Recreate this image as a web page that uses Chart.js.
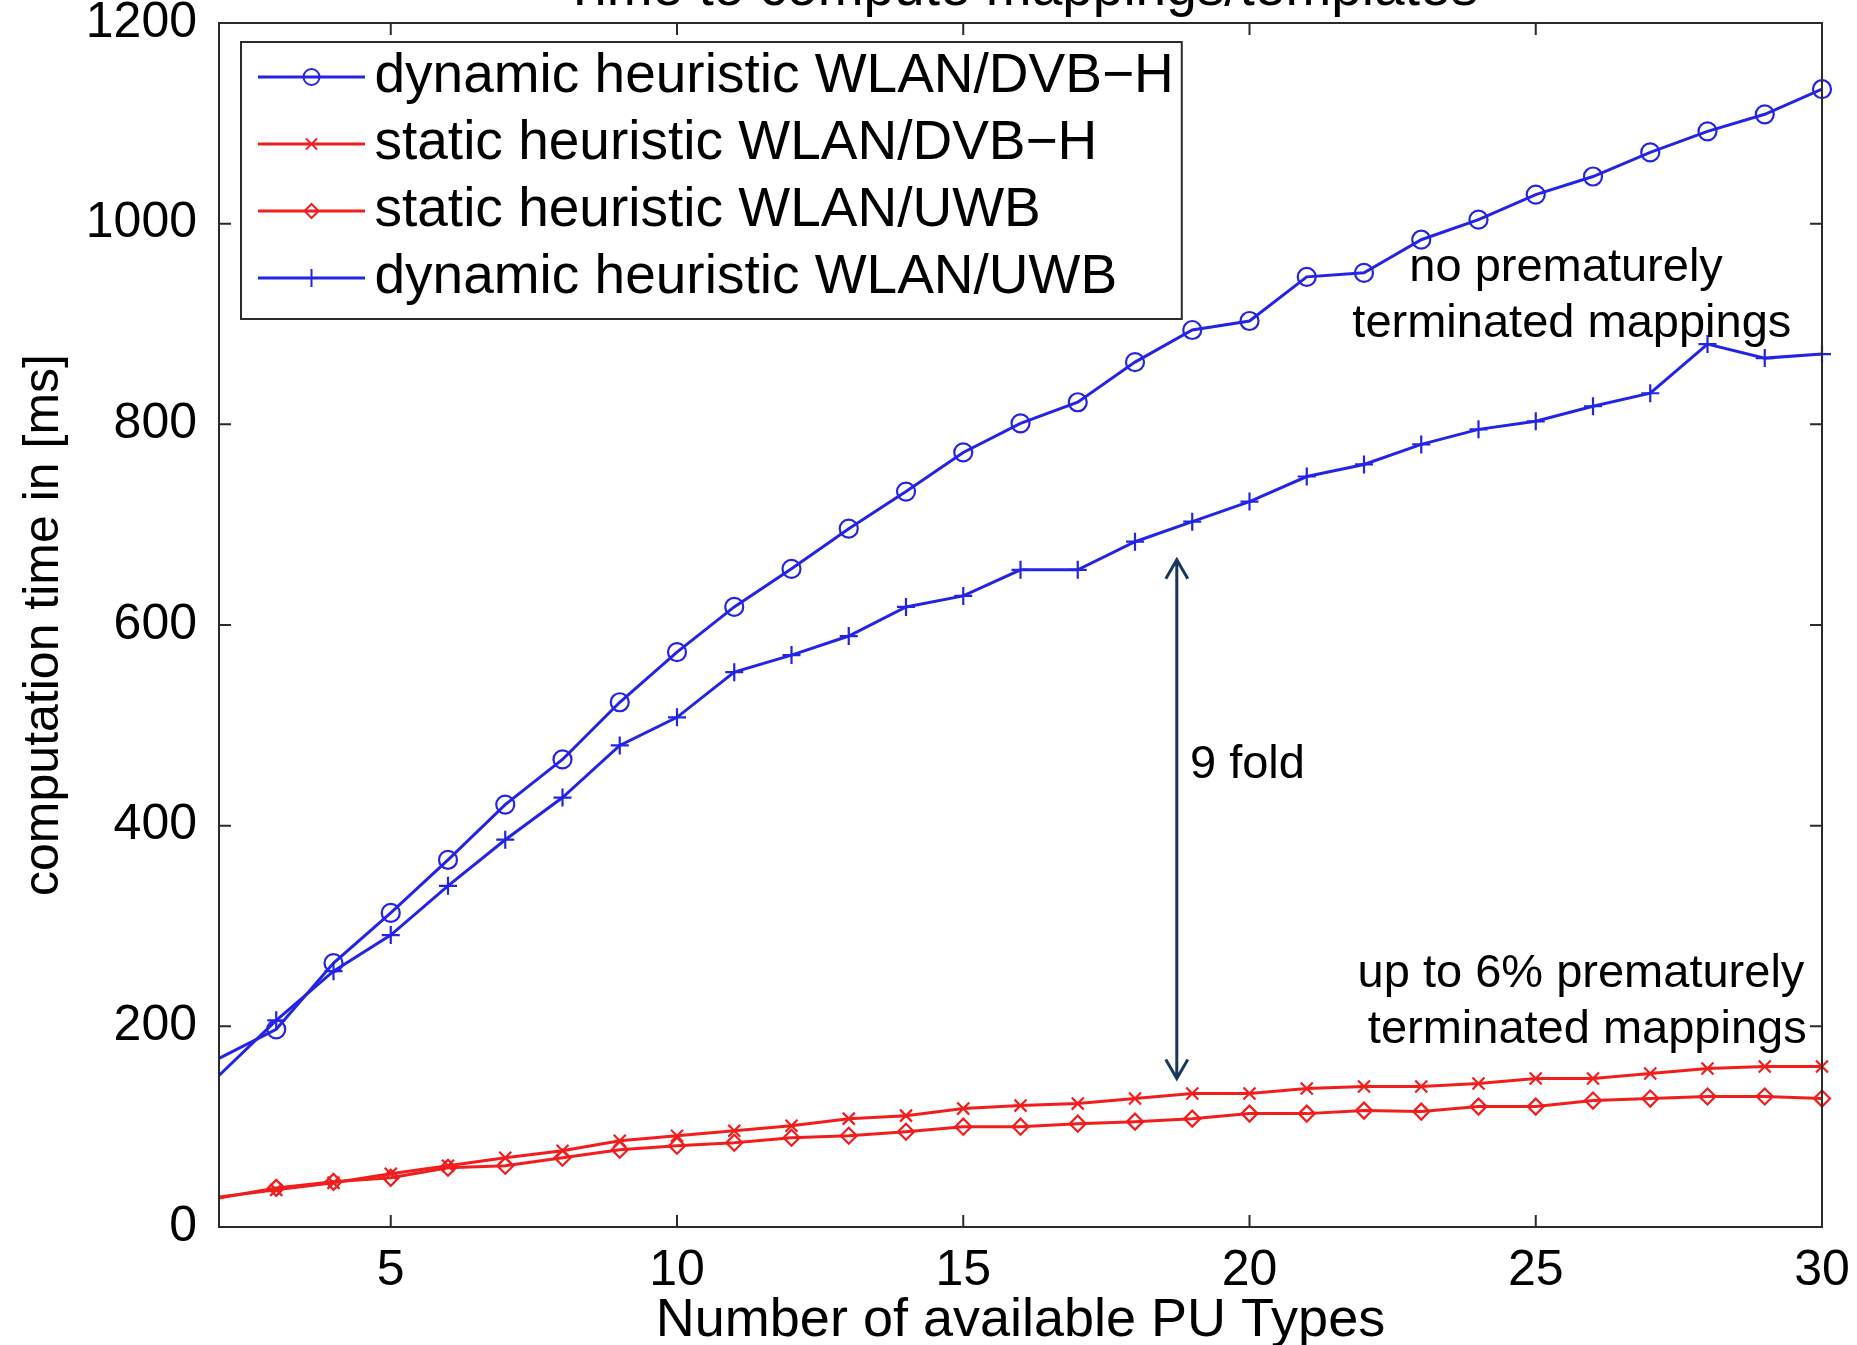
<!DOCTYPE html>
<html>
<head>
<meta charset="utf-8">
<title>Time to compute mappings/templates</title>
<script src="https://cdn.jsdelivr.net/npm/chart.js@4.4.1/dist/chart.umd.min.js"></script>
<style>
  html, body { margin: 0; padding: 0; background: #fff; }
  #wrap { position: relative; width: 1857px; height: 1345px; overflow: hidden; }
  #chart { position: absolute; left: 0; top: -38px; }
</style>
</head>
<body>
<div id="wrap"><canvas id="chart" width="1857" height="1383"></canvas></div>
<script>
// x = number of available PU types (first entry is where the lines enter the axes)
const puTypes = [2, 3, 4, 5, 6, 7, 8, 9, 10, 11, 12, 13, 14, 15, 16, 17, 18, 19, 20, 21, 22, 23, 24, 25, 26, 27, 28, 29, 30];

// computation time in ms
const dynamicDvbh = [168, 197, 263, 313, 366, 421, 466, 523, 573, 618, 656, 696, 733, 772, 801, 822, 862, 894, 903, 947, 951, 984, 1004, 1029, 1047, 1071, 1092, 1109, 1134];
const staticDvbh = [30, 37, 44, 53, 61, 69, 76, 86, 91, 96, 101, 108, 111, 118, 121, 123, 128, 133, 133, 138, 140, 140, 143, 148, 148, 153, 158, 160, 160];
const staticUwb = [29, 39, 45, 49, 59, 61, 69, 77, 81, 84, 89, 91, 95, 100, 100, 103, 105, 108, 113, 113, 116, 115, 120, 120, 126, 128, 130, 130, 128];
const dynamicUwb = [151, 206, 255, 291, 340, 386, 428, 480, 508, 553, 570, 589, 618, 629, 655, 655, 683, 703, 723, 748, 760, 780, 795, 803, 818, 831, 880, 866, 870];

const seriesNames = [
    'dynamic heuristic WLAN/DVB\u2212H',
    'static heuristic WLAN/DVB\u2212H',
    'static heuristic WLAN/UWB',
    'dynamic heuristic WLAN/UWB',
];

const xTickValues = [5, 10, 15, 20, 25, 30];
const yTickValues = [0, 200, 400, 600, 800, 1000, 1200];

// annotations (data coordinates, y is the text baseline)
const noteTexts = ['no prematurely', 'terminated mappings', 'up to 6% prematurely', 'terminated mappings', '9 fold'];
const noteX = [25.53, 25.63, 25.79, 25.9, 18.96];
const noteY = [943, 887, 239, 183, 448];
const noteAlign = ['center', 'center', 'center', 'center', 'left'];

// double arrow between the two groups
const arrowX = 18.73;
const arrowFrom = 148;
const arrowTo = 665;

const BLUE = '#2424e6';
const RED = '#f21d1d';
const FONT = '"Liberation Sans", Arial, Helvetica, sans-serif';

function toPoints(values) {
    return puTypes.map((x, i) => ({ x, y: values[i] }));
}

// legend sample: short line with the marker in the middle
function makeIcon(color, style, radius) {
    const c = document.createElement('canvas');
    c.width = 130;
    c.height = 26;
    const g = c.getContext('2d');
    g.strokeStyle = color;
    g.fillStyle = 'rgba(0,0,0,0)';
    g.lineWidth = 3;
    g.beginPath();
    g.moveTo(23, 13);
    g.lineTo(130, 13);
    g.stroke();
    g.lineWidth = 2;
    Chart.helpers.drawPoint(g, { pointStyle: style, radius, rotation: 0, borderWidth: 2 }, 76.5, 13);
    return c;
}

const legendIcons = [
    makeIcon(BLUE, 'circle', 8),
    makeIcon(RED, 'crossRot', 8),
    makeIcon(RED, 'rectRot', 7),
    makeIcon(BLUE, 'cross', 9),
];

function lineSet(label, values, color, style, radius) {
    return {
        label,
        data: toPoints(values),
        borderColor: color,
        backgroundColor: 'rgba(0,0,0,0)',
        borderWidth: 3,
        tension: 0,
        clip: false,
        pointStyle: style,
        pointRadius: ctx => (ctx.dataIndex === 0 ? 0 : radius),
        pointBorderWidth: 2.2,
        pointBorderColor: color,
        pointBackgroundColor: 'rgba(0,0,0,0)',
    };
}

const framePlugin = {
    id: 'frame',
    afterLayout(chart) {
        const lg = chart.legend;
        if (lg) {
            lg.left = chart.chartArea.left + 22;
            lg.top = chart.chartArea.top + 14.5;
        }
    },
    afterDraw(chart) {
        const { ctx, chartArea: a, scales: { x, y } } = chart;
        ctx.save();
        ctx.strokeStyle = '#2b2b2b';
        ctx.lineWidth = 2;
        ctx.strokeRect(a.left, a.top, a.width, a.height);

        // inward ticks on all four sides
        const tl = 12;
        ctx.beginPath();
        x.ticks.forEach(t => {
            const px = x.getPixelForValue(t.value);
            ctx.moveTo(px, a.bottom); ctx.lineTo(px, a.bottom - tl);
            ctx.moveTo(px, a.top); ctx.lineTo(px, a.top + tl);
        });
        y.ticks.forEach(t => {
            const py = y.getPixelForValue(t.value);
            ctx.moveTo(a.left, py); ctx.lineTo(a.left + tl, py);
            ctx.moveTo(a.right, py); ctx.lineTo(a.right - tl, py);
        });
        ctx.stroke();

        // legend frame
        const lg = chart.legend;
        if (lg && lg.legendHitBoxes && lg.legendHitBoxes.length) {
            const boxes = lg.legendHitBoxes;
            const right = Math.max(...boxes.map(b => b.left + b.width)) + 8;
            ctx.strokeRect(lg.left, lg.top + 4.5, right - lg.left, 277);
        }

        // annotations
        ctx.fillStyle = '#000';
        ctx.font = '47px ' + FONT;
        ctx.textBaseline = 'alphabetic';
        noteTexts.forEach((t, i) => {
            ctx.textAlign = noteAlign[i];
            ctx.fillText(t, x.getPixelForValue(noteX[i]), y.getPixelForValue(noteY[i]));
        });

        // double headed arrow
        const ax = x.getPixelForValue(arrowX);
        const yBottom = y.getPixelForValue(arrowFrom);
        const yTop = y.getPixelForValue(arrowTo);
        ctx.strokeStyle = '#17375e';
        ctx.lineWidth = 3;
        ctx.beginPath();
        ctx.moveTo(ax, yBottom); ctx.lineTo(ax, yTop);
        ctx.moveTo(ax - 11, yTop + 19); ctx.lineTo(ax, yTop); ctx.lineTo(ax + 11, yTop + 19);
        ctx.moveTo(ax - 11, yBottom - 19); ctx.lineTo(ax, yBottom); ctx.lineTo(ax + 11, yBottom - 19);
        ctx.stroke();
        ctx.restore();
    },
};

new Chart(document.getElementById('chart'), {
    type: 'line',
    data: {
        datasets: [
            lineSet(seriesNames[0], dynamicDvbh, BLUE, 'circle', 9),
            lineSet(seriesNames[1], staticDvbh, RED, 'crossRot', 8.5),
            lineSet(seriesNames[2], staticUwb, RED, 'rectRot', 8),
            lineSet(seriesNames[3], dynamicUwb, BLUE, 'cross', 9),
        ],
    },
    options: {
        responsive: false,
        animation: false,
        events: [],
        layout: { padding: { left: 0, right: 35, top: 0, bottom: 0 } },
        plugins: {
            title: {
                display: true,
                text: 'Time to compute mappings/templates',
                color: '#000',
                fullSize: false,
                font: { family: FONT, size: 55, weight: 'normal', lineHeight: 1 },
                padding: { top: 0, bottom: 6 },
            },
            legend: {
                position: 'chartArea',
                align: 'start',
                labels: {
                    color: '#000',
                    font: { family: FONT, size: 55 },
                    padding: 12,
                    usePointStyle: true,
                    pointStyleWidth: 94,
                    generateLabels: chart => {
                        const items = Chart.defaults.plugins.legend.labels.generateLabels(chart);
                        return items.map((it, i) => Object.assign(it, { pointStyle: legendIcons[i], fontColor: '#000' }));
                    },
                },
            },
            tooltip: { enabled: false },
        },
        scales: {
            x: {
                type: 'linear',
                min: 2,
                max: 30,
                afterBuildTicks: s => { s.ticks = xTickValues.map(v => ({ value: v })); },
                afterFit: s => { s.height = 118; },
                grid: { display: false },
                border: { display: false },
                ticks: {
                    color: '#000',
                    padding: 6,
                    maxRotation: 0,
                    autoSkip: false,
                    callback: v => String(v),
                    font: { family: FONT, size: 50 },
                },
                title: {
                    display: true,
                    text: 'Number of available PU Types',
                    color: '#000',
                    font: { family: FONT, size: 54, lineHeight: 0.9 },
                    padding: { top: 0, bottom: 0 },
                },
            },
            y: {
                type: 'linear',
                min: 0,
                max: 1200,
                afterBuildTicks: s => { s.ticks = yTickValues.map(v => ({ value: v })); },
                afterFit: s => { s.width = 219; },
                grid: { display: false },
                border: { display: false },
                ticks: {
                    color: '#000',
                    padding: 14,
                    callback: v => String(v),
                    font: { family: FONT, size: 50 },
                },
                title: {
                    display: true,
                    text: 'computation time in [ms]',
                    color: '#000',
                    font: { family: FONT, size: 50, lineHeight: 1 },
                    padding: { top: 19, bottom: 0 },
                },
            },
        },
    },
    plugins: [framePlugin],
});
</script>
</body>
</html>
